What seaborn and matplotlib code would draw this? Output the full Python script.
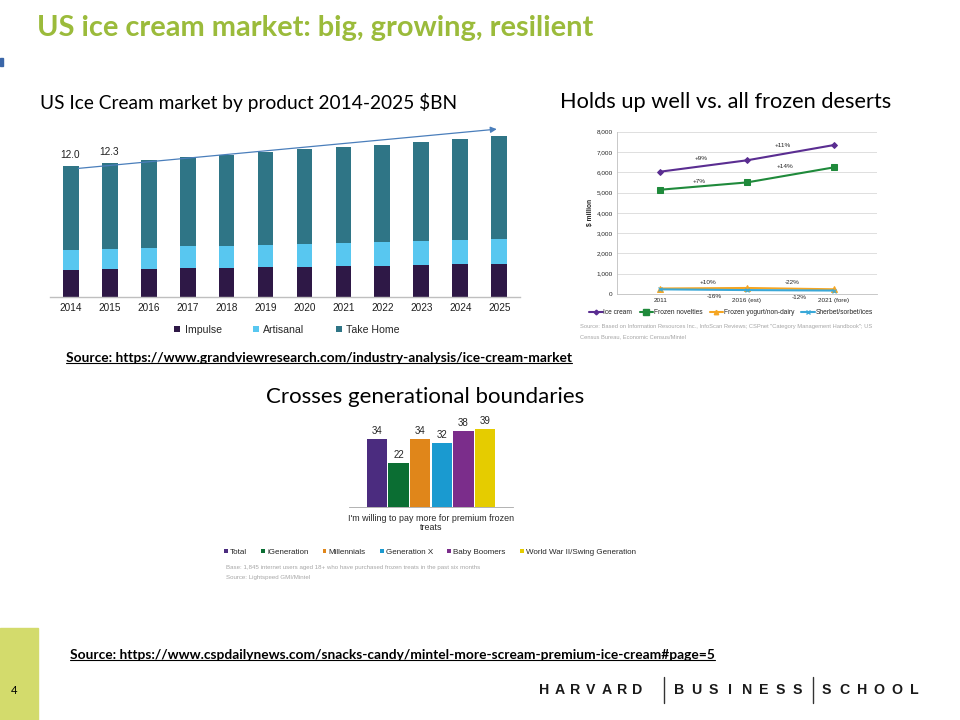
import numpy as np
import pandas as pd
import matplotlib
matplotlib.use("Agg")
import matplotlib.pyplot as plt
import seaborn as sns
from matplotlib.patches import Rectangle, Patch
from matplotlib.lines import Line2D

# ---------------- data ----------------
years = ["2014", "2015", "2016", "2017", "2018", "2019", "2020", "2021", "2022", "2023", "2024", "2025"]
impulse = [2.48, 2.54, 2.58, 2.63, 2.70, 2.73, 2.76, 2.85, 2.88, 2.94, 3.00, 3.03]
artisanal = [1.87, 1.90, 1.95, 2.02, 2.02, 2.08, 2.10, 2.14, 2.17, 2.23, 2.27, 2.29]
take_home = [7.65, 7.86, 8.01, 8.15, 8.28, 8.49, 8.69, 8.81, 8.92, 9.08, 9.23, 9.45]
labelled_years = ["2014", "2015"]

periods = ["2011", "2016 (est)", "2021 (fore)"]
ice_cream = [6030, 6590, 7340]
frozen_novelties = [5140, 5500, 6240]
frozen_yogurt = [270, 297, 232]
sherbet = [230, 193, 170]
series_names = ["Ice cream", "Frozen novelties", "Frozen yogurt/non-dairy", "Sherbet/sorbet/ices"]
growth_ice_cream = ["+9%", "+11%"]
growth_novelties = ["+7%", "+14%"]
growth_yogurt = ["+10%", "-22%"]
growth_sherbet = ["-16%", "-12%"]

generations = ["Total", "iGeneration", "Millennials", "Generation X", "Baby Boomers",
               "World War II/Swing Generation"]
premium_pct = [34, 22, 34, 32, 38, 39]

# ---------------- style ----------------
sns.set_theme(style="white")
plt.rcParams['font.family'] = ['Liberation Sans', 'DejaVu Sans']
SLIDE_FONT = ['Lato', 'DejaVu Sans']

W, H = 960, 720
fig = plt.figure(figsize=(9.6, 7.2), dpi=100)
fig.patch.set_facecolor("white")

def fx(x): return x / W
def fy(y): return 1 - y / H
def add_ax(x0, y0, x1, y1):
    return fig.add_axes([fx(x0), fy(y1), (x1 - x0) / W, (y1 - y0) / H])

# ---------------- slide decorations ----------------
fig.text(fx(37), fy(28), "US ice cream market: big, growing, resilient", family=SLIDE_FONT,
         weight="bold", fontsize=20.9, color="#9BBB3B", ha="left", va="center")
fig.patches.append(Rectangle((0, fy(66)), fx(2.5), 8 / H, transform=fig.transFigure,
                             color="#3A66A8", zorder=5))
fig.text(fx(40), fy(103), "US Ice Cream market by product 2014-2025 $BN", family=SLIDE_FONT,
         fontsize=13.8, color="black", ha="left", va="center")
fig.text(fx(560), fy(102), "Holds up well vs. all frozen deserts", family=SLIDE_FONT,
         fontsize=15.7, color="black", ha="left", va="center")
fig.text(fx(266), fy(397), "Crosses generational boundaries", family=SLIDE_FONT,
         fontsize=16.0, color="black", ha="left", va="center")

src1 = fig.text(fx(66), fy(358), "Source: https://www.grandviewresearch.com/industry-analysis/ice-cream-market",
                family=SLIDE_FONT, weight="bold", fontsize=9.9, color="black", ha="left", va="center")
src2 = fig.text(fx(70), fy(655), "Source: https://www.cspdailynews.com/snacks-candy/mintel-more-scream-premium-ice-cream#page=5",
                family=SLIDE_FONT, weight="bold", fontsize=9.9, color="black", ha="left", va="center")

# footer bar
fig.patches.append(Rectangle((0, 0), fx(38), 92 / H, transform=fig.transFigure,
                             color="#D3DB6C", zorder=0))
fig.text(fx(14), fy(690), "4", family=SLIDE_FONT, fontsize=8, color="black", ha="center", va="center")

# HBS wordmark
words = [("HARVARD", 544, 15.6), ("BUSINESS", 679.3, 16.9), ("SCHOOL", 826.7, 17.5)]
for word, x0, pitch in words:
    for i, ch in enumerate(word):
        fig.text(fx(x0 + i * pitch), fy(690), ch, family=['Liberation Sans'], weight="bold",
                 fontsize=10.2, color="#1A1A1A", ha="center", va="center")
for sx in [664, 813]:
    fig.lines.append(Line2D([fx(sx), fx(sx)], [fy(677), fy(703)], transform=fig.transFigure,
                            color="#333333", lw=1.0))

# ---------------- chart 1: stacked bars ----------------
c_imp, c_art, c_take = "#2E1846", "#58C7F0", "#2F7586"
df1 = pd.DataFrame({"year": years, "impulse": impulse, "artisanal": artisanal, "take_home": take_home})
df1["cum_art"] = df1["impulse"] + df1["artisanal"]
df1["total"] = df1["cum_art"] + df1["take_home"]

ax1 = add_ax(50, 120, 520, 297)
for col, c in [("total", c_take), ("cum_art", c_art), ("impulse", c_imp)]:
    sns.barplot(data=df1, x="year", y=col, color=c, width=0.41, saturation=1,
                edgecolor="none", linewidth=0, ax=ax1, errorbar=None)
ax1.set_xlim(-0.526, 11.526)
ax1.set_ylim(0, 16.24)
ax1.set_xlabel("")
ax1.set_ylabel("")
ax1.set_yticks([])
for s in ["top", "right", "left"]:
    ax1.spines[s].set_visible(False)
ax1.spines["bottom"].set_color("#BFBFBF")
ax1.spines["bottom"].set_linewidth(1.0)
ax1.tick_params(axis="x", length=0, pad=4, labelsize=7.2, labelcolor="#1F1F1F")
ax1.set_facecolor("none")
for i, (yr, tot) in enumerate(zip(df1["year"], df1["total"])):
    if yr in labelled_years:
        ax1.annotate(f"{tot:.1f}", xy=(i, tot), xytext=(0, 6), textcoords="offset pixels",
                     ha="center", va="bottom", fontsize=7.2, color="#1F1F1F")
ax1.annotate("", xy=(10.93, 15.4), xytext=(0.2, 11.8),
             arrowprops=dict(arrowstyle="-|>", color="#4A7EBB", lw=0.9, mutation_scale=9,
                             shrinkA=0, shrinkB=0))
leg1 = [Patch(facecolor=c, edgecolor="none") for c in [c_imp, c_art, c_take]]
fig.legend(leg1, ["Impulse", "Artisanal", "Take Home"], loc="center",
           bbox_to_anchor=(fx(287), fy(330)), ncol=3, frameon=False, fontsize=7.6,
           handlelength=0.55, handleheight=0.55, handletextpad=0.4, columnspacing=3.0)

# ---------------- chart 2: lines ----------------
line_colors = {"Ice cream": "#5A2D91", "Frozen novelties": "#1F8A3B",
               "Frozen yogurt/non-dairy": "#F5A623", "Sherbet/sorbet/ices": "#3AA8D8"}
line_markers = {"Ice cream": "D", "Frozen novelties": "s",
                "Frozen yogurt/non-dairy": "^", "Sherbet/sorbet/ices": "x"}
marker_sizes = {"Ice cream": 3, "Frozen novelties": 5, "Frozen yogurt/non-dairy": 4, "Sherbet/sorbet/ices": 3}
df2 = pd.DataFrame({"period": periods, "Ice cream": ice_cream, "Frozen novelties": frozen_novelties,
                    "Frozen yogurt/non-dairy": frozen_yogurt, "Sherbet/sorbet/ices": sherbet})
df2_long = df2.melt(id_vars="period", var_name="series", value_name="value")

ax2 = add_ax(617, 131.7, 877, 294)
ax2.set_facecolor("none")
ax2.yaxis.grid(True, color="#D9D9D9", lw=0.6)
ax2.set_axisbelow(True)
for name in series_names:
    sub = df2_long[df2_long["series"] == name]
    sns.lineplot(data=sub, x="period", y="value", color=line_colors[name], marker=line_markers[name],
                 markersize=marker_sizes[name], markeredgecolor=line_colors[name], lw=1.5,
                 sort=False, ax=ax2, legend=False, errorbar=None)
ax2.set_xlim(-0.5, 2.5)
ax2.set_ylim(0, 8000)
ax2.set_yticks(np.arange(0, 8001, 1000))
ax2.set_yticklabels([f"{v:,}" for v in range(0, 8001, 1000)])
ax2.set_xlabel("")
ax2.set_ylabel("$ million", fontsize=4.8, weight="bold", labelpad=2)
ax2.tick_params(axis="both", length=0, labelsize=4.6, labelcolor="#262626", pad=3)
for s in ["top", "right"]:
    ax2.spines[s].set_visible(False)
ax2.spines["left"].set_color("#BFBFBF")
ax2.spines["bottom"].set_color("#BFBFBF")
ax2.spines["left"].set_linewidth(0.6)
ax2.spines["bottom"].set_linewidth(0.6)

growth_sets = [(ice_cream, growth_ice_cream, [(-2, 7), (-8, 7)]),
               (frozen_novelties, growth_novelties, [(-4, 5), (-5, 8)]),
               (frozen_yogurt, growth_yogurt, [(4, 6), (2, 6)]),
               (sherbet, growth_sherbet, [(11, -7), (9, -7)])]
for vals, labels, offs in growth_sets:
    for k in range(2):
        mid = (vals[k] + vals[k + 1]) / 2
        ax2.annotate(labels[k], xy=(k + 0.5, mid), xytext=offs[k], textcoords="offset pixels",
                     ha="center", va="center", fontsize=4.6, color="#262626")

leg2 = [Line2D([0], [0], color=line_colors[n], marker=line_markers[n], markersize=marker_sizes[n] * 0.8,
               lw=1.5) for n in series_names]
fig.legend(leg2, series_names, loc="center", bbox_to_anchor=(fx(731), fy(313)), ncol=4,
           frameon=False, fontsize=4.8, handlelength=2.0, handletextpad=0.1, columnspacing=1.1)
fig.text(fx(580), fy(327), "Source: Based on Information Resources Inc., InfoScan Reviews; CSPnet \"Category Management Handbook\"; US",
         fontsize=4.15, color="#A6A6A6", ha="left", va="center")
fig.text(fx(580), fy(337), "Census Bureau, Economic Census/Mintel",
         fontsize=4.15, color="#A6A6A6", ha="left", va="center")

# ---------------- chart 3: generations ----------------
gen_colors = ["#4B2C7F", "#0B6E33", "#E0861A", "#1A9AD0", "#7B2D8B", "#E5CC00"]
df3 = pd.DataFrame({"generation": generations, "pct": premium_pct})
ax3 = add_ax(349, 420, 513, 507.3)
ax3.set_facecolor("none")
sns.barplot(data=df3, x="generation", y="pct", hue="generation", palette=gen_colors, width=0.95,
            saturation=1, legend=False, ax=ax3, edgecolor="none", errorbar=None)
ax3.set_xlim(-1.31, 6.31)
ax3.set_ylim(0, 43.65)
for cont in ax3.containers:
    ax3.bar_label(cont, fmt="%d", padding=2.5, fontsize=7.0, color="#262626")
ax3.set_xticks([-1.31, 6.31])
ax3.set_xticklabels(["", ""])
ax3.set_yticks([])
ax3.set_xlabel("")
ax3.set_ylabel("")
ax3.tick_params(axis="x", length=3, width=0.6, color="#A6A6A6", direction="out")
for s in ["top", "right", "left"]:
    ax3.spines[s].set_visible(False)
ax3.spines["bottom"].set_color("#A6A6A6")
ax3.spines["bottom"].set_linewidth(0.6)
fig.text(fx(431), fy(523), "I'm willing to pay more for premium frozen\ntreats", fontsize=6.4,
         color="#262626", ha="center", va="center", linespacing=0.95)
leg3 = [Patch(facecolor=c, edgecolor="none") for c in gen_colors]
fig.legend(leg3, generations, loc="center", bbox_to_anchor=(fx(430), fy(552.5)), ncol=6,
           frameon=False, fontsize=5.8, handlelength=0.45, handleheight=0.45, handletextpad=0.3,
           columnspacing=1.75)
fig.text(fx(226), fy(567.5), "Base: 1,845 internet users aged 18+ who have purchased frozen treats in the past six months",
         fontsize=4.45, color="#A6A6A6", ha="left", va="center")
fig.text(fx(226), fy(578), "Source: Lightspeed GMI/Mintel",
         fontsize=4.45, color="#A6A6A6", ha="left", va="center")

# ---------------- underline source links ----------------
fig.canvas.draw()
renderer = fig.canvas.get_renderer()
for t in [src1, src2]:
    bb = t.get_window_extent(renderer)
    yline = bb.y0 + 1.5
    fig.lines.append(Line2D([bb.x0 / W, bb.x1 / W], [yline / H, yline / H],
                            transform=fig.transFigure, color="black", lw=0.8))

fig.savefig("out.png", dpi=100, facecolor="white")
